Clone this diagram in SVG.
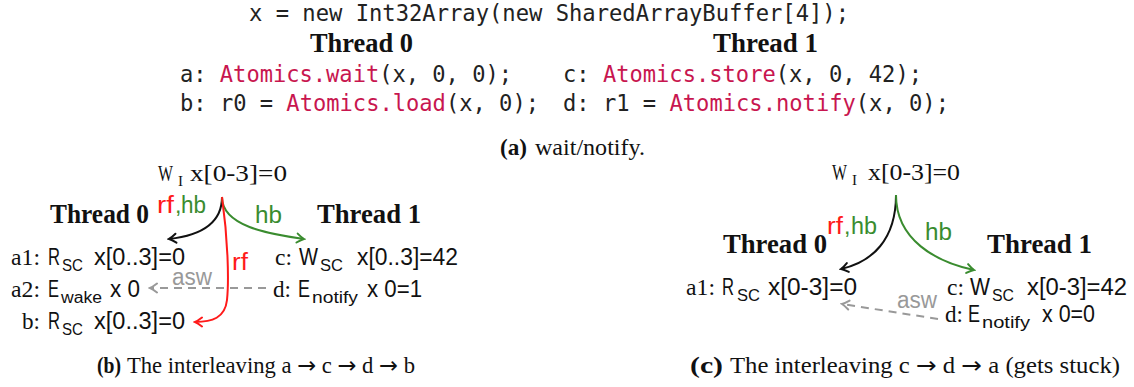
<svg xmlns="http://www.w3.org/2000/svg" width="1134" height="387" viewBox="0 0 1134 387">
<style>
.mono{font-family:"DejaVu Sans Mono","Liberation Mono",monospace;font-size:23.5px;fill:#222}
.kw{fill:#c8164f}
.serif{font-family:"Liberation Serif",serif;font-size:23px;fill:#111}
.sans{font-family:"Liberation Sans",sans-serif;font-size:23px;fill:#111}
.sub{font-family:"Liberation Sans",sans-serif;font-size:16px;fill:#111}
.subs{font-family:"Liberation Serif",serif;font-size:15px;fill:#111}
.th{font-family:"Liberation Serif",serif;font-size:27px;font-weight:bold;fill:#111}
.cap{font-family:"Liberation Serif",serif;font-size:23px;fill:#111}
.arr{font-family:"DejaVu Sans",sans-serif}
.b{font-weight:bold}
.red{fill:#ff1a1a}
.grn{fill:#3a8c2f}
.gry{fill:#999999}
.e{fill:none;stroke-width:2}
.ek{stroke:#111;marker-end:url(#ak)}
.eg{stroke:#3a8c2f;marker-end:url(#ag)}
.er{stroke:#ff1a1a;marker-end:url(#ar)}
.ea{stroke:#999999;stroke-dasharray:8 6;marker-end:url(#aa)}
</style>
<defs>
<marker id="ak" viewBox="-9 -6 11 12" refX="0" refY="0" markerWidth="11" markerHeight="12" markerUnits="userSpaceOnUse" orient="auto"><path d="M-7,-4.5 Q-2.5,-1 0,0 Q-2.5,1 -7,4.5" fill="none" stroke="#111" stroke-width="2" stroke-linecap="round"/></marker>
<marker id="ag" viewBox="-9 -6 11 12" refX="0" refY="0" markerWidth="11" markerHeight="12" markerUnits="userSpaceOnUse" orient="auto"><path d="M-7,-4.5 Q-2.5,-1 0,0 Q-2.5,1 -7,4.5" fill="none" stroke="#3a8c2f" stroke-width="2" stroke-linecap="round"/></marker>
<marker id="ar" viewBox="-9 -6 11 12" refX="0" refY="0" markerWidth="11" markerHeight="12" markerUnits="userSpaceOnUse" orient="auto"><path d="M-7,-4.5 Q-2.5,-1 0,0 Q-2.5,1 -7,4.5" fill="none" stroke="#ff1a1a" stroke-width="2" stroke-linecap="round"/></marker>
<marker id="aa" viewBox="-9 -6 11 12" refX="0" refY="0" markerWidth="11" markerHeight="12" markerUnits="userSpaceOnUse" orient="auto"><path d="M-7,-4.5 Q-2.5,-1 0,0 Q-2.5,1 -7,4.5" fill="none" stroke="#999999" stroke-width="2" stroke-linecap="round"/></marker>
</defs>
<rect width="1134" height="387" fill="#fff"/>

<g id="code">
<text class="mono" x="249" y="21" textLength="600" lengthAdjust="spacingAndGlyphs" xml:space="preserve">x = new Int32Array(new SharedArrayBuffer[4]);</text>
<text class="th" x="310" y="52" textLength="103" lengthAdjust="spacingAndGlyphs">Thread 0</text>
<text class="th" x="713" y="52" textLength="105" lengthAdjust="spacingAndGlyphs">Thread 1</text>
<text class="mono" x="180" y="82" textLength="332" lengthAdjust="spacingAndGlyphs" xml:space="preserve">a: <tspan class="kw">Atomics.wait</tspan>(x, 0, 0);</text>
<text class="mono" x="180" y="111" textLength="359" lengthAdjust="spacingAndGlyphs" xml:space="preserve">b: r0 = <tspan class="kw">Atomics.load</tspan>(x, 0);</text>
<text class="mono" x="563" y="82" textLength="359" lengthAdjust="spacingAndGlyphs" xml:space="preserve">c: <tspan class="kw">Atomics.store</tspan>(x, 0, 42);</text>
<text class="mono" x="563" y="111" textLength="386" lengthAdjust="spacingAndGlyphs" xml:space="preserve">d: r1 = <tspan class="kw">Atomics.notify</tspan>(x, 0);</text>
</g>
<g id="caption-a">
<text class="cap b" x="500" y="155" textLength="27" lengthAdjust="spacingAndGlyphs">(a)</text>
<text class="cap" x="535" y="155" textLength="110" lengthAdjust="spacingAndGlyphs">wait/notify.</text>
</g>

<!-- (b) -->
<g id="b-wi">
<text class="serif" x="158" y="181" textLength="15" lengthAdjust="spacingAndGlyphs">W</text>
<text class="subs" x="178" y="186">I</text>
<text class="serif" x="190" y="181" textLength="97" lengthAdjust="spacingAndGlyphs">x[0-3]=0</text>
</g>
<g id="b-thread0"><text class="th" x="50" y="223" textLength="99" lengthAdjust="spacingAndGlyphs">Thread 0</text></g>
<g id="b-thread1"><text class="th" x="317" y="223" textLength="104" lengthAdjust="spacingAndGlyphs">Thread 1</text></g>
<g id="b-a1">
<text class="serif" x="11" y="265" textLength="29" lengthAdjust="spacingAndGlyphs">a1:</text>
<text class="sans" x="48" y="265" textLength="12" lengthAdjust="spacingAndGlyphs">R</text>
<text class="sub" x="62" y="271" textLength="21" lengthAdjust="spacingAndGlyphs">SC</text>
<text class="sans" x="94" y="265" textLength="91" lengthAdjust="spacingAndGlyphs">x[0..3]=0</text>
</g>
<g id="b-a2">
<text class="serif" x="11" y="297" textLength="29" lengthAdjust="spacingAndGlyphs">a2:</text>
<text class="sans" x="48" y="297" textLength="11" lengthAdjust="spacingAndGlyphs">E</text>
<text class="sub" x="61" y="303" textLength="41" lengthAdjust="spacingAndGlyphs">wake</text>
<text class="sans" x="110" y="297" textLength="30" lengthAdjust="spacingAndGlyphs">x 0</text>
</g>
<g id="b-b">
<text class="serif" x="22" y="329" textLength="18" lengthAdjust="spacingAndGlyphs">b:</text>
<text class="sans" x="48" y="329" textLength="12" lengthAdjust="spacingAndGlyphs">R</text>
<text class="sub" x="62" y="335" textLength="21" lengthAdjust="spacingAndGlyphs">SC</text>
<text class="sans" x="94" y="329" textLength="91" lengthAdjust="spacingAndGlyphs">x[0..3]=0</text>
</g>
<g id="b-c">
<text class="serif" x="275" y="265" textLength="17" lengthAdjust="spacingAndGlyphs">c:</text>
<text class="sans" x="299" y="265" textLength="19" lengthAdjust="spacingAndGlyphs">W</text>
<text class="sub" x="320" y="271" textLength="23" lengthAdjust="spacingAndGlyphs">SC</text>
<text class="sans" x="357" y="265" textLength="101" lengthAdjust="spacingAndGlyphs">x[0..3]=42</text>
</g>
<g id="b-d">
<text class="serif" x="273" y="297" textLength="18" lengthAdjust="spacingAndGlyphs">d:</text>
<text class="sans" x="298" y="297" textLength="12" lengthAdjust="spacingAndGlyphs">E</text>
<text class="sub" x="312" y="303" textLength="46" lengthAdjust="spacingAndGlyphs">notify</text>
<text class="sans" x="367" y="297" textLength="55" lengthAdjust="spacingAndGlyphs">x 0=1</text>
</g>
<g id="caption-b">
<text class="cap b" x="97" y="373" textLength="24" lengthAdjust="spacingAndGlyphs">(b)</text>
<text class="cap" x="127" y="373" textLength="288" lengthAdjust="spacingAndGlyphs">The interleaving a <tspan class="arr">→</tspan> c <tspan class="arr">→</tspan> d <tspan class="arr">→</tspan> b</text>
</g>

<!-- (c) -->
<g id="c-wi">
<text class="serif" x="832" y="180" textLength="15" lengthAdjust="spacingAndGlyphs">W</text>
<text class="subs" x="852" y="185">I</text>
<text class="serif" x="868" y="180" textLength="92" lengthAdjust="spacingAndGlyphs">x[0-3]=0</text>
</g>
<g id="c-thread0"><text class="th" x="723" y="253" textLength="104" lengthAdjust="spacingAndGlyphs">Thread 0</text></g>
<g id="c-thread1"><text class="th" x="987" y="253" textLength="105" lengthAdjust="spacingAndGlyphs">Thread 1</text></g>
<g id="c-a1">
<text class="serif" x="686" y="295" textLength="29" lengthAdjust="spacingAndGlyphs">a1:</text>
<text class="sans" x="722" y="295" textLength="12" lengthAdjust="spacingAndGlyphs">R</text>
<text class="sub" x="737" y="301" textLength="23" lengthAdjust="spacingAndGlyphs">SC</text>
<text class="sans" x="768" y="295" textLength="89" lengthAdjust="spacingAndGlyphs">x[0-3]=0</text>
</g>
<g id="c-c">
<text class="serif" x="947" y="295" textLength="17" lengthAdjust="spacingAndGlyphs">c:</text>
<text class="sans" x="970" y="295" textLength="20" lengthAdjust="spacingAndGlyphs">W</text>
<text class="sub" x="992" y="301" textLength="22" lengthAdjust="spacingAndGlyphs">SC</text>
<text class="sans" x="1027" y="295" textLength="100" lengthAdjust="spacingAndGlyphs">x[0-3]=42</text>
</g>
<g id="c-d">
<text class="serif" x="945" y="322" textLength="18" lengthAdjust="spacingAndGlyphs">d:</text>
<text class="sans" x="968" y="322" textLength="12" lengthAdjust="spacingAndGlyphs">E</text>
<text class="sub" x="982" y="328" textLength="48" lengthAdjust="spacingAndGlyphs">notify</text>
<text class="sans" x="1042" y="322" textLength="53" lengthAdjust="spacingAndGlyphs">x 0=0</text>
</g>
<g id="caption-c">
<text class="cap b" x="690" y="373" textLength="33" lengthAdjust="spacingAndGlyphs">(c)</text>
<text class="cap" x="730" y="373" textLength="390" lengthAdjust="spacingAndGlyphs">The interleaving c <tspan class="arr">→</tspan> d <tspan class="arr">→</tspan> a (gets stuck)</text>
</g>

<g id="connectors">
<path class="e ek" d="M222,197 C222,226 196,236 169,239"/>
<path class="e eg" d="M222,197 C222,226 268,234 304,239"/>
<path class="e er" d="M222,197 C228,240 229,280 227,300 C225,318 212,322 195,322"/>
<path class="e ea" d="M266,288 L150,288"/>
<path class="e ek" d="M896,195 C896,240 872,262 841,269"/>
<path class="e eg" d="M896,195 C896,240 936,262 974,270"/>
<path class="e ea" d="M938,319 L842,304"/>
</g>
<g id="edge-labels">
<text class="sans red" x="157" y="213" font-size="22" textLength="17" lengthAdjust="spacingAndGlyphs">rf</text>
<text class="sans grn" x="175" y="213" font-size="22">,</text>
<text class="sans grn" x="181" y="213" font-size="22" textLength="25" lengthAdjust="spacingAndGlyphs">hb</text>
<text class="sans grn" x="255" y="223" textLength="27" lengthAdjust="spacingAndGlyphs">hb</text>
<text class="sans red" x="232" y="270" textLength="16" lengthAdjust="spacingAndGlyphs">rf</text>
<text class="sans gry" x="172" y="285" textLength="40" lengthAdjust="spacingAndGlyphs">asw</text>
<text class="sans red" x="827" y="234" textLength="16" lengthAdjust="spacingAndGlyphs">rf</text>
<text class="sans grn" x="844" y="234">,</text>
<text class="sans grn" x="851" y="234" textLength="26" lengthAdjust="spacingAndGlyphs">hb</text>
<text class="sans grn" x="925" y="240" textLength="27" lengthAdjust="spacingAndGlyphs">hb</text>
<text class="sans gry" x="897" y="308" textLength="40" lengthAdjust="spacingAndGlyphs">asw</text>
</g>
</svg>
